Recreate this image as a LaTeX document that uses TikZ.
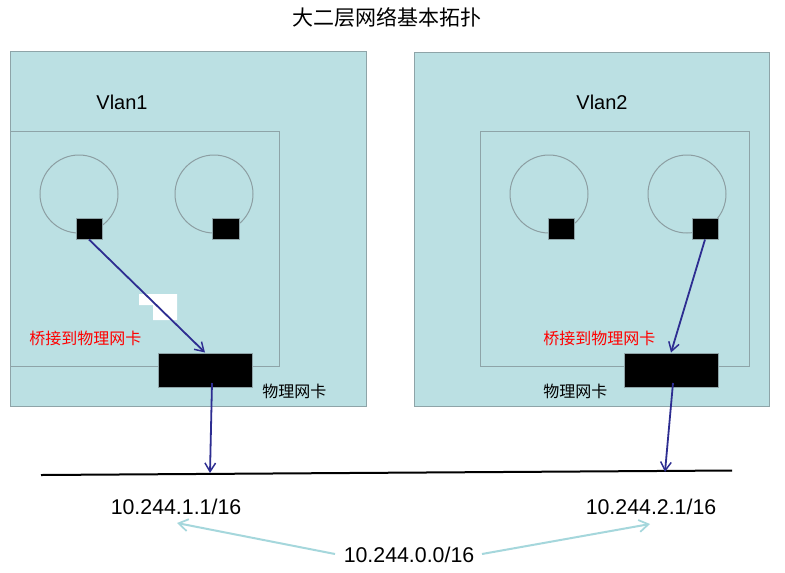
\documentclass[tikz,border=0pt]{standalone}
\usepackage{fontspec}
\setmainfont{Liberation Sans}
\newfontfamily\cjk{Noto Sans CJK SC}
\usetikzlibrary{arrows.meta}
\definecolor{boxfill}{RGB}{187,224,227}
\definecolor{boxline}{RGB}{142,164,168}
\definecolor{circline}{RGB}{140,158,162}
\definecolor{linkblue}{RGB}{45,45,145}
\definecolor{netcyan}{RGB}{165,215,220}
\tikzset{
  pane/.style={draw=boxline, fill=boxfill, line width=0.75pt},
  vm/.style={draw=circline, line width=0.75pt},
  port/.style={draw=boxline, fill=black, line width=0.75pt, inner sep=0pt, minimum width=#1*0.75pt, minimum height=21*0.75pt},
  nic/.style={draw=boxline, fill=black, line width=0.75pt, inner sep=0pt, minimum width=94*0.75pt, minimum height=34*0.75pt},
  link/.style={draw=linkblue, line width=1.35pt, -{Straight Barb[length=6.5pt,width=8pt,line width=1.1pt]}},
  span/.style={draw=netcyan, line width=1.5pt, -{Straight Barb[length=7pt,width=9pt,line width=1.3pt]}},
  lbl/.style={inner sep=0pt, font=\fontsize{15pt}{18pt}\selectfont},
  ip/.style={inner sep=0pt, font=\fontsize{16pt}{19pt}\selectfont},
  cn/.style={inner sep=0pt, font=\cjk\fontsize{12pt}{14pt}\selectfont},
  redcn/.style={cn, text=red}
}
\begin{document}
\begin{tikzpicture}[x=0.75pt,y=-0.75pt]
\useasboundingbox (0,0) rectangle (785,572);
\fill[white] (0,0) rectangle (785,572);
% title
\node[inner sep=0pt, font=\cjk\fontsize{15.75pt}{18pt}\selectfont] (title) at (387,17) {大二层网络基本拓扑};
% left pane
\draw[pane] (10,51) rectangle (366,406);
\draw[pane] (10,131) rectangle (279,366);
\draw[vm] (79,194) circle (39);
\draw[vm] (214,194) circle (39);
\node[port=26] (s1) at (89,228.5) {};
\node[port=27] (s2) at (225.5,228.5) {};
\node[nic] (n1) at (205,370) {};
\fill[white] (139,294) -- (177,294) -- (177,320) -- (153,320) -- (153,305) -- (139,305) -- cycle;
\node[lbl] (v1) at (122,102) {Vlan1};
\node[redcn, anchor=west] (b1) at (29,338) {桥接到物理网卡};
\node[cn, anchor=west] (p1) at (262,391) {物理网卡};
% right pane
\draw[pane] (414,52) rectangle (769,406);
\draw[pane] (480,131) rectangle (749,366);
\draw[vm] (549,194) circle (39);
\draw[vm] (687,194) circle (39);
\node[port=26] (s3) at (561,228.5) {};
\node[port=26] (s4) at (705,228.5) {};
\node[nic] (n2) at (671,370) {};
\node[lbl] (v2) at (602,102) {Vlan2};
\node[redcn, anchor=west] (b2) at (543,338) {桥接到物理网卡};
\node[cn, anchor=west] (p2) at (543,391) {物理网卡};
% bridge links
\draw[link] (s1.south) -- (n1.north);
\draw[link] (s4.south) -- (n2.north);
% network line
\coordinate (wl) at (41,475);
\coordinate (wr) at (732,470.5);
\draw[line width=1.5pt, black] (wl) -- (wr);
\coordinate (n1o) at (212,383);
\coordinate (n1d) at (210,473);
\coordinate (n2o) at (673,383);
\coordinate (n2d) at (665,472);
\draw[link] (n1o) -- (n1d);
\draw[link] (n2o) -- (n2d);
% addresses
\node[ip] (a1) at (176,507) {10.244.1.1/16};
\node[ip] (a2) at (651,507) {10.244.2.1/16};
\node[ip] (a0) at (409,555) {10.244.0.0/16};
\coordinate (c1) at (177,523);
\coordinate (c2) at (650,524);
\coordinate (c0l) at (335,554);
\coordinate (c0r) at (482,554);
\draw[span] (c0l) -- (c1);
\draw[span] (c0r) -- (c2);
\end{tikzpicture}
\end{document}
